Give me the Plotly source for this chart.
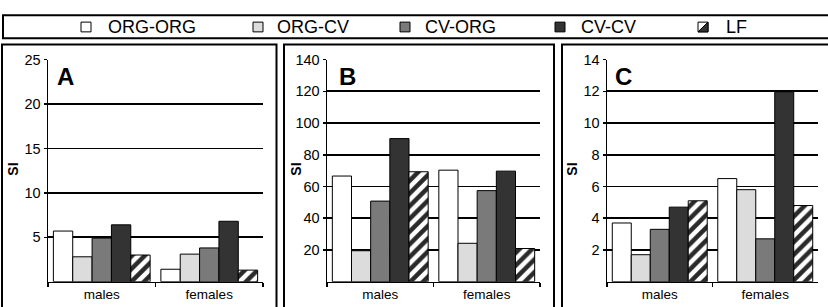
import plotly.graph_objects as go

W, H = 828, 307

categories = ["males", "females"]
series_names = ["ORG-ORG", "ORG-CV", "CV-ORG", "CV-CV", "LF"]

# Panel A
a_org_org = [5.7, 1.4]
a_org_cv = [2.8, 3.1]
a_cv_org = [4.9, 3.8]
a_cv_cv = [6.4, 6.8]
a_lf = [3.0, 1.3]

# Panel B
b_org_org = [66.6, 70.3]
b_org_cv = [19.5, 24.2]
b_cv_org = [50.8, 57.4]
b_cv_cv = [90.2, 69.7]
b_lf = [69.3, 20.9]

# Panel C
c_org_org = [3.7, 6.5]
c_org_cv = [1.7, 5.8]
c_cv_org = [3.3, 2.7]
c_cv_cv = [4.7, 11.95]
c_lf = [5.1, 4.8]

a_ticks = [5, 10, 15, 20, 25]
b_ticks = [20, 40, 60, 80, 100, 120, 140]
c_ticks = [2, 4, 6, 8, 10, 12, 14]

panels = [
    ("A", [a_org_org, a_org_cv, a_cv_org, a_cv_cv, a_lf], a_ticks),
    ("B", [b_org_org, b_org_cv, b_cv_org, b_cv_cv, b_lf], b_ticks),
    ("C", [c_org_org, c_org_cv, c_cv_org, c_cv_cv, c_lf], c_ticks),
]

fills = ["#ffffff", "#dcdcdc", "#7a7a7a", "#333333", "#ffffff"]


def px(x):
    return x / W


def py(y):
    return 1 - y / H


# plot area pixel geometry
plot_x = [(48, 263), (327, 540), (607, 818)]
plot_top, plot_bot = 53, 281
box_x = [(2, 276.5), (284, 554), (562, 840)]
si_x = [13, 296, 572]
letter_x = [55, 337, 613]

TICKFONT = dict(family="Liberation Sans Narrow, Arial Narrow, Liberation Sans, Arial", size=14.5, color="#000")
CATFONT = dict(family="Liberation Sans Narrow, Arial Narrow, Liberation Sans, Arial", size=13.5, color="#000")

fig = go.Figure()
layout = dict(
    width=W, height=H, margin=dict(l=0, r=0, t=0, b=0),
    paper_bgcolor="white", plot_bgcolor="white",
    showlegend=False, barmode="group", bargap=0.1, bargroupgap=0,
)
shapes = []
annotations = []

for i, (letter, vals, ticks) in enumerate(panels):
    xa = "x" if i == 0 else f"x{i+1}"
    ya = "y" if i == 0 else f"y{i+1}"
    xkey = "xaxis" if i == 0 else f"xaxis{i+1}"
    ykey = "yaxis" if i == 0 else f"yaxis{i+1}"
    for j, name in enumerate(series_names):
        marker = dict(color=fills[j], line=dict(color="#000", width=1))
        if name == "LF":
            marker["pattern"] = dict(shape="/", bgcolor="#ffffff", fgcolor="#2a2a2a",
                                     size=9, solidity=0.5, fillmode="replace")
        fig.add_trace(go.Bar(x=categories, y=vals[j], name=name, marker=marker,
                             xaxis=xa, yaxis=ya, showlegend=False, hoverinfo="skip"))
    x0, x1 = plot_x[i]
    layout[xkey] = dict(
        domain=[px(x0), px(x1)], anchor=ya, type="category",
        showline=True, linecolor="#000", linewidth=1.5, mirror=False,
        ticks="outside", tickson="boundaries", ticklen=4, tickcolor="#000", tickwidth=1.5,
        showgrid=False, tickfont=CATFONT, fixedrange=True,
    )
    layout[ykey] = dict(
        domain=[py(plot_bot), py(plot_top)], anchor=xa,
        range=[0, ticks[-1]], tickvals=ticks,
        showgrid=True, gridcolor="#000", gridwidth=1.7,
        showline=True, linecolor="#000", linewidth=1.5,
        ticks="outside", ticklen=3, tickcolor="#000", tickwidth=1.5,
        zeroline=False, tickfont=TICKFONT, fixedrange=True,
    )
    bx0, bx1 = box_x[i]
    shapes.append(dict(type="rect", xref="paper", yref="paper",
                       x0=px(bx0), x1=px(bx1), y0=py(37.5), y1=py(330),
                       line=dict(color="#000", width=2), fillcolor="rgba(0,0,0,0)", layer="above"))
    annotations.append(dict(text="<b>SI</b>", xref="paper", yref="paper",
                            x=px(si_x[i]), y=py(166), textangle=-90, showarrow=False,
                            font=dict(family="Liberation Sans, Arial", size=14, color="#000"),
                            xanchor="center", yanchor="middle"))
    annotations.append(dict(text=f"<b>{letter}</b>", xref="paper", yref="paper",
                            x=px(letter_x[i]), y=py(70), showarrow=False,
                            font=dict(family="Liberation Sans, Arial", size=24, color="#000"),
                            xanchor="left", yanchor="middle"))

# legend box
shapes.append(dict(type="rect", xref="paper", yref="paper",
                   x0=px(3), x1=px(840), y0=py(31), y1=py(7.5),
                   line=dict(color="#000", width=2), fillcolor="rgba(0,0,0,0)"))
leg_sq = [81, 253, 400, 555, 698]
leg_tx = [106, 275, 423, 579, 724]
leg_cy = 19.5
s = 10
for k, name in enumerate(series_names):
    sx = leg_sq[k]
    shapes.append(dict(type="rect", xref="paper", yref="paper",
                       x0=px(sx), x1=px(sx + s), y0=py(leg_cy + s / 2), y1=py(leg_cy - s / 2),
                       line=dict(color="#000", width=1), fillcolor=fills[k]))
    if name == "LF":
        path = (f"M {px(sx + s)},{py(leg_cy - s/2)} L {px(sx + s)},{py(leg_cy + s/2)} "
                f"L {px(sx)},{py(leg_cy + s/2)} Z")
        shapes.append(dict(type="path", xref="paper", yref="paper", path=path,
                           line=dict(color="#000", width=1), fillcolor="#333333"))
    annotations.append(dict(text=name, xref="paper", yref="paper",
                            x=px(leg_tx[k]), y=py(leg_cy), showarrow=False,
                            xanchor="left", yanchor="middle",
                            font=dict(family="Liberation Sans, Arial", size=18, color="#000")))

layout["shapes"] = shapes
layout["annotations"] = annotations
fig.update_layout(**layout)
fig.write_html("out.html",
               config={"displayModeBar": False, "staticPlot": True},
               post_script="document.body.style.margin='0';document.body.style.overflow='hidden';")
